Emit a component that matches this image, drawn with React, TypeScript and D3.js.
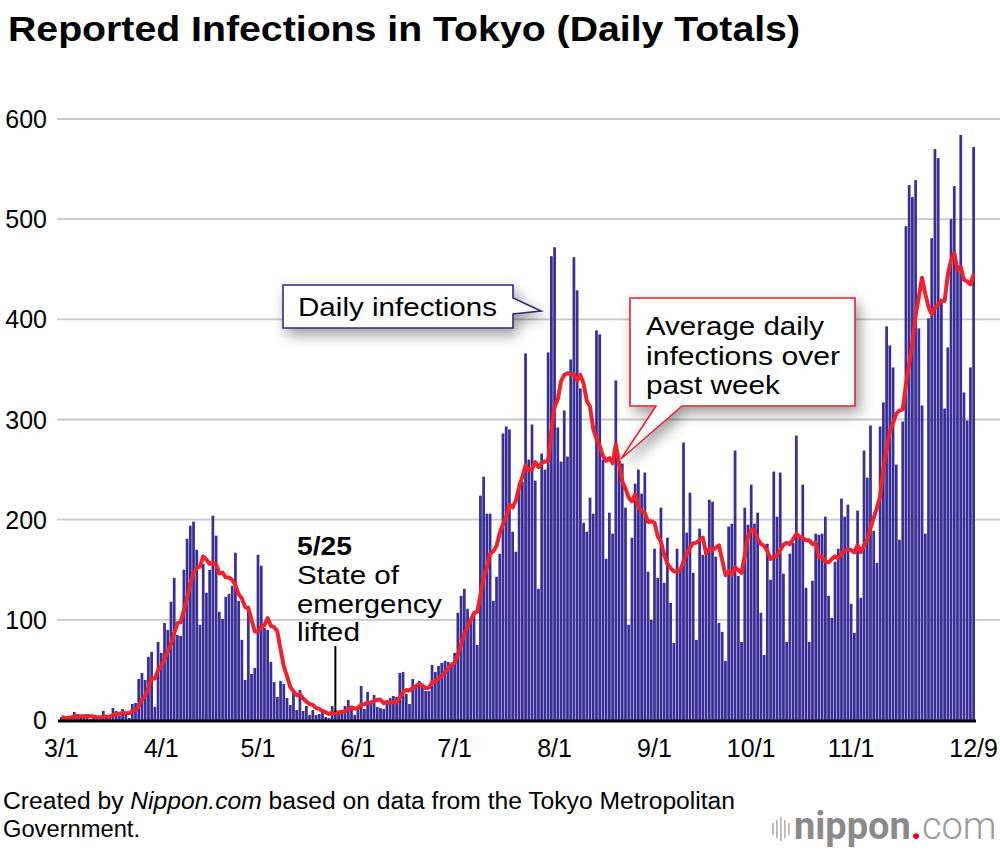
import * as d3 from "d3";

// daily reported infections, Tokyo, 2020 (by month)
const marchCases = [3, 1, 2, 4, 8, 6, 3, 3, 2, 1, 2, 3, 4, 9, 2, 3, 12, 9, 4, 11, 7, 2, 16, 17, 41, 47, 40, 63, 68, 13, 78];
const aprilCases = [67, 97, 90, 118, 142, 85, 84, 150, 181, 194, 198, 170, 95, 156, 127, 150, 204, 184, 108, 101, 123, 126, 134, 167, 119, 80, 40, 114, 46, 52];
const mayCases = [165, 154, 92, 90, 58, 38, 23, 39, 36, 22, 15, 28, 10, 30, 9, 14, 5, 10, 5, 6, 11, 3, 2, 14, 8, 9, 10, 14, 20, 13, 5];
const juneCases = [12, 34, 11, 28, 18, 25, 13, 12, 11, 19, 22, 24, 23, 47, 48, 26, 16, 41, 35, 39, 36, 29, 29, 55, 48, 54, 57, 59, 58, 55];
const julyCases = [67, 107, 124, 131, 111, 102, 106, 75, 224, 243, 206, 206, 119, 143, 166, 286, 293, 290, 188, 168, 237, 238, 366, 260, 295, 239, 131, 266, 250, 367, 463];
const augustCases = [472, 292, 258, 309, 263, 360, 462, 429, 331, 197, 188, 222, 206, 389, 385, 260, 161, 207, 186, 339, 258, 256, 212, 95, 182, 236, 250, 226, 247, 148, 100];
const septemberCases = [171, 142, 212, 137, 182, 117, 77, 171, 149, 277, 187, 227, 147, 80, 191, 165, 167, 220, 218, 163, 97, 88, 59, 193, 196, 269, 144, 78, 212, 195];
const octoberCases = [235, 196, 207, 107, 65, 176, 140, 248, 203, 247, 146, 78, 166, 177, 284, 184, 235, 132, 78, 139, 186, 185, 186, 203, 124, 102, 158, 171, 221, 203, 215];
const novemberCases = [116, 87, 209, 122, 269, 242, 294, 189, 157, 293, 317, 393, 374, 352, 255, 180, 298, 493, 534, 522, 539, 391, 314, 186, 401, 481, 570, 561, 418, 311];
const decemberCases = [372, 500, 533, 449, 584, 327, 299, 352, 572];

const xTickLabels = ["3/1", "4/1", "5/1", "6/1", "7/1", "8/1", "9/1", "10/1", "11/1", "12/9"];
const yTicks = [0, 100, 200, 300, 400, 500, 600];

const dailyCases = [
  ...marchCases, ...aprilCases, ...mayCases, ...juneCases, ...julyCases,
  ...augustCases, ...septemberCases, ...octoberCases, ...novemberCases, ...decemberCases,
];
const startDate = new Date(2020, 2, 1);

// average over the past week (trailing 7 days)
const weekAverage = dailyCases.map((_, i) =>
  d3.mean(dailyCases.slice(Math.max(0, i - 6), i + 1)) as number
);

const font = "'Liberation Sans', Arial, Helvetica, sans-serif";

const width = 1000;
const height = 850;

const x = d3
  .scaleBand<number>()
  .domain(d3.range(dailyCases.length))
  .range([60, 975])
  .paddingInner(0.15);

const y = d3.scaleLinear().domain([0, 600]).range([720, 119]);

const dayIndex = (label: string) => {
  const [m, d] = label.split("/").map(Number);
  return d3.timeDay.count(startDate, new Date(2020, m - 1, d));
};

const center = (i: number) => (x(i) as number) + x.bandwidth() / 2;

const line = d3
  .line<number>()
  .x((_, i) => center(i))
  .y((d) => y(d));

// one text line stretched to the width it has in the reference
const Stretched = ({ x: tx, y: ty, w, size, bold, children }: any) => (
  <text
    x={tx}
    y={ty}
    fontSize={size}
    fontWeight={bold ? "bold" : "normal"}
    textLength={w}
    lengthAdjust="spacingAndGlyphs"
  >
    {children}
  </text>
);

export default function App() {
  const liftX = center(dayIndex("5/25"));
  return (
    <svg
      width={width}
      height={height}
      style={{ position: "absolute", left: 0, top: 0, background: "#fff" }}
      fontFamily={font}
    >
      <defs>
        <filter id="shadow" x="-30%" y="-30%" width="160%" height="180%">
          <feDropShadow dx="4" dy="6" stdDeviation="7" floodColor="#000" floodOpacity="0.4" />
        </filter>
      </defs>

      <text x={8} y={41} fontSize={35} fontWeight="bold" textLength={792} lengthAdjust="spacingAndGlyphs">
        Reported Infections in Tokyo (Daily Totals)
      </text>

      {/* grid */}
      {yTicks.filter((t) => t > 0).map((t) => (
        <line key={t} x1={57} x2={1000} y1={y(t)} y2={y(t)} stroke="#c8c8c8" strokeWidth={1.8} />
      ))}
      {yTicks.map((t) => (
        <text key={t} x={47} y={y(t) + 9} fontSize={25} textAnchor="end">
          {t}
        </text>
      ))}

      {/* bars */}
      {dailyCases.map((v, i) => (
        <rect
          key={i}
          x={x(i)}
          y={y(v)}
          width={x.bandwidth()}
          height={y(0) - y(v)}
          fill="#3a2f96"
        />
      ))}

      {/* weekly average */}
      <path d={line(weekAverage) || ""} fill="none" stroke="#f0222b" strokeWidth={4} strokeLinejoin="round" />

      <line x1={58} x2={976} y1={y(0) + 1} y2={y(0) + 1} stroke="#000" strokeWidth={3} />
      {xTickLabels.map((t) => (
        <text key={t} x={center(dayIndex(t))} y={757} fontSize={25} textAnchor="middle">
          {t}
        </text>
      ))}

      {/* 5/25 annotation */}
      <line x1={liftX} x2={liftX} y1={646} y2={712} stroke="#000" strokeWidth={2} />
      <Stretched x={297} y={555} w={55} size={26} bold>5/25</Stretched>
      <Stretched x={297} y={584} w={102} size={26}>State of</Stretched>
      <Stretched x={297} y={613} w={145} size={26}>emergency</Stretched>
      <Stretched x={297} y={641} w={63} size={26}>lifted</Stretched>

      {/* daily infections callout */}
      <g filter="url(#shadow)">
        <path
          d="M283,285 H513 V298 L541,311 L513,314 V328 H283 Z"
          fill="#fff"
          stroke="#2e2a86"
          strokeWidth={1.6}
        />
      </g>
      <Stretched x={298} y={316} w={199} size={26}>Daily infections</Stretched>

      {/* average callout */}
      <g filter="url(#shadow)">
        <path
          d="M630,298 H855 V406 H682 L621,459 L656,406 H630 Z"
          fill="#fff"
          stroke="#e8232a"
          strokeWidth={1.6}
        />
      </g>
      <Stretched x={646} y={335} w={178} size={26}>Average daily</Stretched>
      <Stretched x={646} y={365} w={194} size={26}>infections over</Stretched>
      <Stretched x={646} y={394} w={134} size={26}>past week</Stretched>

      {/* footer */}
      <text x={3} y={809} fontSize={23} textLength={732} lengthAdjust="spacingAndGlyphs">
        Created by <tspan fontStyle="italic">Nippon.com</tspan> based on data from the Tokyo Metropolitan
      </text>
      <text x={3} y={837} fontSize={23} textLength={137} lengthAdjust="spacingAndGlyphs">Government.</text>

      {/* logo */}
      <g fill="#b8b8b8">
        {[12, 18, 24, 18, 12].map((h, i) => (
          <rect key={i} x={772 + i * 4} y={829 - h / 2} width={1.8} height={h} />
        ))}
      </g>
      <text x={794} y={839} fontSize={38} fontFamily="Roboto, 'Liberation Sans', sans-serif">
        <tspan fontWeight="bold" fill="#8a8a8a">nippon</tspan>
        <tspan fill="#e60012" fontWeight="bold">.</tspan>
        <tspan fill="#9a9a9a" fontWeight="300">com</tspan>
      </text>
    </svg>
  );
}
